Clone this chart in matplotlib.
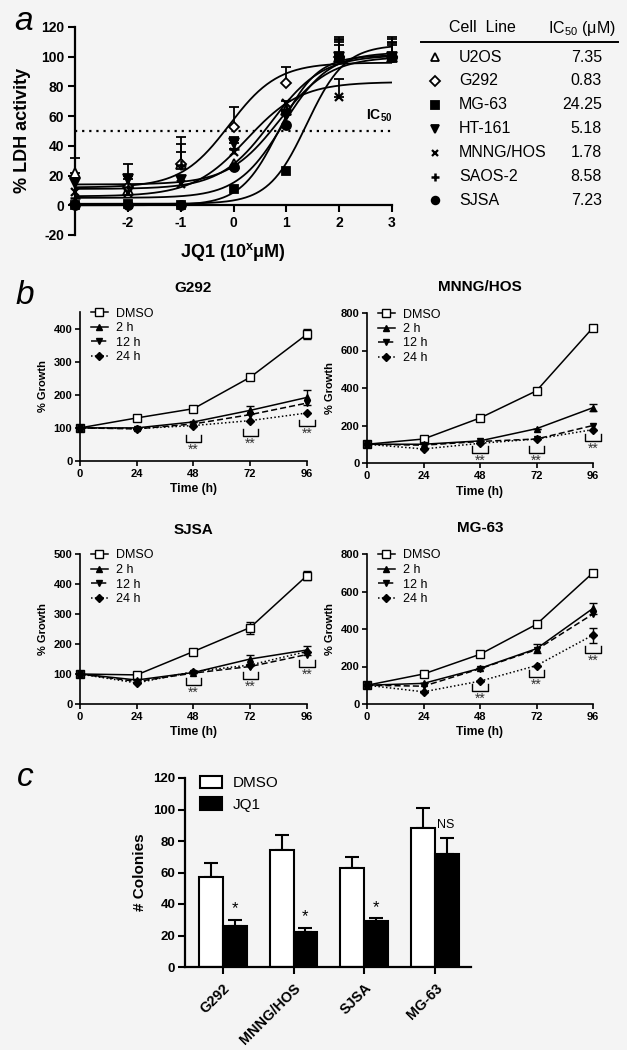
"""Three-panel JQ1 figure: LDH dose response, growth curves, colony counts."""

import matplotlib

matplotlib.use("Agg")
import matplotlib.pyplot as plt
import numpy as np
from matplotlib.lines import Line2D
from matplotlib.patches import Patch

plt.rcParams["font.family"] = ["Liberation Sans", "DejaVu Sans"]
plt.rcParams["mathtext.fontset"] = "custom"
plt.rcParams["mathtext.rm"] = "Liberation Sans"
plt.rcParams["mathtext.bf"] = "Liberation Sans:bold"
plt.rcParams["mathtext.it"] = "Liberation Sans:italic"
plt.rcParams["axes.unicode_minus"] = False

# ---- panel a: LDH activity vs log dose ----
LOG_DOSE = [-3, -2, -1, 0, 1, 2, 3]
CELL_LINES = ["U2OS", "G292", "MG-63", "HT-161", "MNNG/HOS", "SAOS-2", "SJSA"]
IC50_UM = [7.35, 0.83, 24.25, 5.18, 1.78, 8.58, 7.23]
LDH_U2OS = [22, 10, 28, 28, 64, 100, 100]
LDH_G292 = [1, 12, 28, 53, 82, 100, 100]
LDH_MG63 = [0, 1, 0, 11, 23, 100, 100]
LDH_HT161 = [15, 18, 17, 42, 61, 100, 100]
LDH_MNNG = [9, 8, 14, 36, 69, 73, 100]
LDH_SAOS2 = [5, 12, 27, 38, 64, 100, 100]
LDH_SJSA = [0, 0, 0, 26, 54, 100, 100]
ERR_U2OS = [10, 0, 18, 0, 6, 12, 8]
ERR_G292 = [0, 0, 8, 13, 11, 10, 10]
ERR_MG63 = [0, 0, 0, 0, 0, 8, 12]
ERR_HT161 = [0, 10, 0, 4, 0, 11, 9]
ERR_MNNG = [0, 0, 0, 0, 0, 12, 0]
ERR_SAOS2 = [0, 8, 14, 6, 0, 13, 13]
ERR_SJSA = [0, 0, 0, 0, 0, 0, 0]
# fitted curve bottom / top / hill slope (IC50 from the table)
FIT_BOTTOM = [14, 12, 1, 11, 6, 5, 0]
FIT_TOP = [100, 96, 108, 101, 83, 103, 101]
FIT_HILL = [0.9, 0.95, 1.2, 0.9, 0.85, 1.0, 1.2]

# ---- panel b: % growth over time ----
TIMES = [0, 24, 48, 72, 96]
G292_DMSO = [100, 130, 158, 253, 383]
G292_2H = [100, 100, 118, 153, 192]
G292_12H = [100, 97, 112, 140, 175]
G292_24H = [100, 98, 107, 122, 145]
G292_ERR_DMSO = [0, 0, 0, 0, 15]
G292_ERR_2H = [0, 0, 0, 12, 23]
G292_BRACKETS = [57, 75, 105]

MNNG_DMSO = [100, 128, 240, 385, 722]
MNNG_2H = [100, 100, 118, 183, 295]
MNNG_12H = [100, 95, 115, 128, 200]
MNNG_24H = [100, 75, 105, 128, 178]
MNNG_ERR_DMSO = [0, 0, 0, 0, 12]
MNNG_ERR_2H = [0, 0, 0, 0, 18]
MNNG_BRACKETS = [53, 53, 117]

SJSA_DMSO = [100, 97, 175, 255, 428]
SJSA_2H = [100, 80, 105, 150, 180]
SJSA_12H = [100, 75, 103, 125, 165]
SJSA_24H = [100, 70, 108, 130, 175]
SJSA_ERR_DMSO = [0, 0, 0, 20, 15]
SJSA_ERR_2H = [0, 0, 0, 15, 15]
SJSA_BRACKETS = [63, 83, 123]

MG63_DMSO = [100, 160, 265, 425, 700]
MG63_2H = [100, 110, 190, 295, 510]
MG63_12H = [100, 95, 188, 290, 480]
MG63_24H = [100, 65, 122, 205, 368]
MG63_ERR_DMSO = [0, 0, 0, 0, 15]
MG63_ERR_2H = [0, 0, 0, 25, 30]
MG63_ERR_24H = [0, 0, 0, 0, 40]
MG63_BRACKETS = [69, 144, 272]

# ---- panel c: colony counts ----
COLONY_LINES = ["G292", "MNNG/HOS", "SJSA", "MG-63"]
COLONY_DMSO = [57, 74, 63, 88]
COLONY_DMSO_ERR = [9, 10, 7, 13]
COLONY_JQ1 = [26, 22, 29, 72]
COLONY_JQ1_ERR = [4, 3, 2, 10]
COLONY_MARKS = ["*", "*", "*", "NS"]

BG = "#f4f4f4"
W, H = 627, 1050


def fx(px):
    return px / W


def fy(py):
    return 1 - py / H


def rect(left, top, right, bottom):
    return [fx(left), fy(bottom), fx(right) - fx(left), fy(top) - fy(bottom)]


def logistic(x, bottom, top, ic50, hill):
    return bottom + (top - bottom) / (1 + 10 ** ((np.log10(ic50) - x) * hill))


LDH_MARKERS = [
    dict(marker="^", mfc="white", ms=6.5),
    dict(marker="D", mfc="white", ms=5.5),
    dict(marker="s", mfc="black", ms=6),
    dict(marker="v", mfc="black", ms=6.5),
    dict(marker="x", mfc="black", ms=5.5, mew=1.6),
    dict(marker="+", mfc="black", ms=7, mew=1.8),
    dict(marker="o", mfc="black", ms=6.5),
]


def draw_ldh(fig):
    ax = fig.add_axes(rect(75, 27, 392, 235))
    ax.set_facecolor(BG)
    ax.set_xlim(-3, 3)
    ax.set_ylim(-20, 120)
    ax.spines[["top", "right"]].set_visible(False)
    ax.spines["bottom"].set_position(("data", 0))
    for sp in ("left", "bottom"):
        ax.spines[sp].set_linewidth(1.6)
    ax.set_xticks([-2, -1, 0, 1, 2, 3])
    ax.set_yticks(range(-20, 121, 20))
    ax.tick_params(width=1.5, length=5, labelsize=10, pad=3)
    for lab in ax.get_xticklabels() + ax.get_yticklabels():
        lab.set_fontweight("bold")

    xs = np.linspace(-3, 3, 300)
    for bottom, top, ic50, hill in zip(FIT_BOTTOM, FIT_TOP, IC50_UM, FIT_HILL):
        ax.plot(xs, logistic(xs, bottom, top, ic50, hill), color="k", lw=1.3,
                zorder=2)
    ax.plot([-3, 3], [50, 50], color="k", lw=1.6, ls=(0, (1, 2.2)), zorder=2)
    ax.text(3, 60, r"IC$_{\mathbf{50}}$", ha="right", va="center",
            fontsize=10, fontweight="bold")

    values = [LDH_U2OS, LDH_G292, LDH_MG63, LDH_HT161, LDH_MNNG, LDH_SAOS2,
              LDH_SJSA]
    errors = [ERR_U2OS, ERR_G292, ERR_MG63, ERR_HT161, ERR_MNNG, ERR_SAOS2,
              ERR_SJSA]
    dose = np.array(LOG_DOSE, dtype=float)
    for vals, errs, style in zip(values, errors, LDH_MARKERS):
        vals = np.array(vals, dtype=float)
        errs = np.array(errs, dtype=float)
        mask = errs > 0
        if mask.any():
            ax.errorbar(dose[mask], vals[mask],
                        yerr=[np.zeros(mask.sum()), errs[mask]], fmt="none",
                        ecolor="k", elinewidth=1.3, capsize=3.6, capthick=1.3,
                        zorder=3, clip_on=False)
        ax.plot(dose, vals, ls="none", color="k", mec="k", mew=style.get("mew", 1.3),
                marker=style["marker"], mfc=style["mfc"], ms=style["ms"],
                zorder=4, clip_on=False)

    fig.text(fx(23), fy(130), "% LDH activity", rotation=90, ha="center",
             va="center", fontsize=13, fontweight="bold")
    fig.text(fx(233), fy(252), r"JQ1 (10$^{\mathbf{x}}$μM)", ha="center",
             va="center", fontsize=13, fontweight="bold")
    fig.text(fx(24), fy(22), "a", ha="center", va="center", fontsize=24,
             style="italic")

    # IC50 table
    fig.text(fx(449), fy(28), "Cell  Line", ha="left", va="center", fontsize=11.5)
    fig.text(fx(616), fy(28), "IC$_{50}$ (μM)", ha="right", va="center",
             fontsize=11.5)
    fig.add_artist(Line2D([fx(421), fx(618)], [fy(42), fy(42)], color="k",
                          lw=1.4, transform=fig.transFigure))
    for i, (name, ic50, style) in enumerate(zip(CELL_LINES, IC50_UM, LDH_MARKERS)):
        yrow = 57 + i * 23.9
        fig.add_artist(Line2D([fx(435)], [fy(yrow)], ls="none", color="k",
                              marker=style["marker"], mfc=style["mfc"], mec="k",
                              ms=style["ms"] * 0.85, mew=style.get("mew", 1.3),
                              transform=fig.transFigure))
        fig.text(fx(459), fy(yrow), name, ha="left", va="center", fontsize=11.5)
        fig.text(fx(602), fy(yrow), f"{ic50:.2f}", ha="right", va="center",
                 fontsize=11.5)


GROWTH_STYLES = [
    ("DMSO", dict(ls="-", marker="s", mfc="white", ms=6)),
    ("2 h", dict(ls="-", marker="^", mfc="black", ms=4.5)),
    ("12 h", dict(ls=(0, (4, 2)), marker="v", mfc="black", ms=4.5)),
    ("24 h", dict(ls=(0, (1, 1.5)), marker="D", mfc="black", ms=4)),
]


def draw_growth(fig, box, title, title_y, series, errors, brackets, ymax, ystep):
    ax = fig.add_axes(rect(*box))
    ax.set_facecolor(BG)
    ax.set_xlim(0, 96)
    ax.set_ylim(0, ymax)
    ax.spines[["top", "right"]].set_visible(False)
    for sp in ("left", "bottom"):
        ax.spines[sp].set_linewidth(1.2)
    ax.set_xticks(TIMES)
    ax.set_yticks(np.arange(0, ymax + 1, ystep))
    ax.tick_params(width=1.2, length=3.5, labelsize=8, pad=2)
    for lab in ax.get_xticklabels() + ax.get_yticklabels():
        lab.set_fontweight("bold")

    handles = []
    for vals, errs, (label, style) in zip(series, errors, GROWTH_STYLES):
        if errs is not None:
            ax.errorbar(TIMES, vals, yerr=errs, fmt="none", ecolor="k",
                        elinewidth=1.0, capsize=2.8, capthick=1.0, zorder=3,
                        clip_on=False)
        (line,) = ax.plot(TIMES, vals, color="k", lw=1.1, mec="k", mew=1.0,
                          label=label, zorder=4, clip_on=False, **style)
        handles.append(line)

    # significance brackets with ** below
    height = ymax * 0.045
    for t, base in zip(TIMES[2:], brackets):
        ax.plot([t - 3.2, t - 3.2, t + 3.2, t + 3.2],
                [base + height, base, base, base + height], color="k", lw=1.0,
                zorder=3, clip_on=False)
        ax.text(t, base - ymax * 0.005, "**", ha="center", va="top",
                fontsize=10, color="#333333", clip_on=False)

    ax.legend(handles=handles, loc="upper left", bbox_to_anchor=(0.05, 1.03),
              frameon=False, fontsize=9, handlelength=1.3, handletextpad=0.7,
              labelspacing=0.2, borderpad=0, borderaxespad=0)
    ax.text(0.5, title_y, title, transform=ax.transAxes, ha="center",
            va="center", fontsize=11, fontweight="bold")
    ax.text(0.5, -0.19, "Time (h)", transform=ax.transAxes, ha="center",
            va="center", fontsize=8.7, fontweight="bold")
    ax.text(-0.165, 0.5, "% Growth", transform=ax.transAxes, ha="center",
            va="center", rotation=90, fontsize=8, fontweight="bold")


def draw_colonies(fig):
    ax = fig.add_axes(rect(185, 778, 471, 967))
    ax.set_facecolor(BG)
    x = np.arange(len(COLONY_LINES))
    w = 0.338
    ax.bar(x - w / 2, COLONY_DMSO, w, color="white", edgecolor="k", lw=1.5,
           zorder=2)
    ax.bar(x + w / 2, COLONY_JQ1, w, color="black", edgecolor="k", lw=1.5,
           zorder=2)
    zeros = np.zeros(len(x))
    ax.errorbar(x - w / 2, COLONY_DMSO, yerr=[zeros, COLONY_DMSO_ERR],
                fmt="none", ecolor="k", elinewidth=1.5, capsize=4.7,
                capthick=1.5, zorder=1)
    ax.errorbar(x + w / 2, COLONY_JQ1, yerr=[zeros, COLONY_JQ1_ERR],
                fmt="none", ecolor="k", elinewidth=1.5, capsize=4.7,
                capthick=1.5, zorder=1)
    for xi, top, err, mark in zip(x, COLONY_JQ1, COLONY_JQ1_ERR, COLONY_MARKS):
        if mark == "NS":
            ax.text(xi + w / 2 - 0.02, 90, mark, ha="center", va="center",
                    fontsize=9)
        else:
            ax.text(xi + w / 2, top + err + 2, mark, ha="center",
                    va="bottom", fontsize=12)
    ax.set_xlim(-0.535, len(x) - 0.49)
    ax.set_ylim(0, 120)
    ax.spines[["top", "right"]].set_visible(False)
    for sp in ("left", "bottom"):
        ax.spines[sp].set_linewidth(1.6)
    ax.set_yticks(range(0, 121, 20))
    ax.set_xticks(x)
    ax.set_xticklabels(COLONY_LINES, rotation=45, ha="right",
                       rotation_mode="anchor")
    ax.tick_params(width=1.5, length=5, labelsize=9.5, pad=2)
    ax.tick_params(axis="x", labelsize=10.4, pad=5)
    for lab in ax.get_xticklabels() + ax.get_yticklabels():
        lab.set_fontweight("bold")
    handles = [Patch(facecolor="white", edgecolor="k", lw=1.5, label="DMSO"),
               Patch(facecolor="black", edgecolor="k", lw=1.5, label="JQ1")]
    ax.legend(handles=handles, loc="upper left", bbox_to_anchor=(0.052, 1.01),
              frameon=False, fontsize=11, handlelength=1.45, handleheight=0.85,
              handletextpad=0.7, labelspacing=0.45, borderpad=0,
              borderaxespad=0)
    fig.text(fx(140), fy(872), "# Colonies", rotation=90, ha="center",
             va="center", fontsize=11, fontweight="bold")
    fig.text(fx(25), fy(778), "c", ha="center", va="center", fontsize=24,
             style="italic")


def main():
    fig = plt.figure(figsize=(W / 100, H / 100), dpi=100, facecolor=BG)
    draw_ldh(fig)

    draw_growth(fig, (80, 312, 307, 461), "G292", 1.161,
                [G292_DMSO, G292_2H, G292_12H, G292_24H],
                [G292_ERR_DMSO, G292_ERR_2H, None, None], G292_BRACKETS, 450, 100)
    draw_growth(fig, (367, 313, 593, 463), "MNNG/HOS", 1.173,
                [MNNG_DMSO, MNNG_2H, MNNG_12H, MNNG_24H],
                [MNNG_ERR_DMSO, MNNG_ERR_2H, None, None], MNNG_BRACKETS, 800, 200)
    draw_growth(fig, (80, 554, 307, 704), "SJSA", 1.16,
                [SJSA_DMSO, SJSA_2H, SJSA_12H, SJSA_24H],
                [SJSA_ERR_DMSO, SJSA_ERR_2H, None, None], SJSA_BRACKETS, 500, 100)
    draw_growth(fig, (367, 554, 593, 704), "MG-63", 1.173,
                [MG63_DMSO, MG63_2H, MG63_12H, MG63_24H],
                [MG63_ERR_DMSO, MG63_ERR_2H, None, MG63_ERR_24H], MG63_BRACKETS,
                800, 200)
    fig.text(fx(25), fy(296), "b", ha="center", va="center", fontsize=24,
             style="italic")

    draw_colonies(fig)
    fig.savefig("out.png", dpi=100, facecolor=BG)
    plt.close(fig)


if __name__ == "__main__":
    main()
